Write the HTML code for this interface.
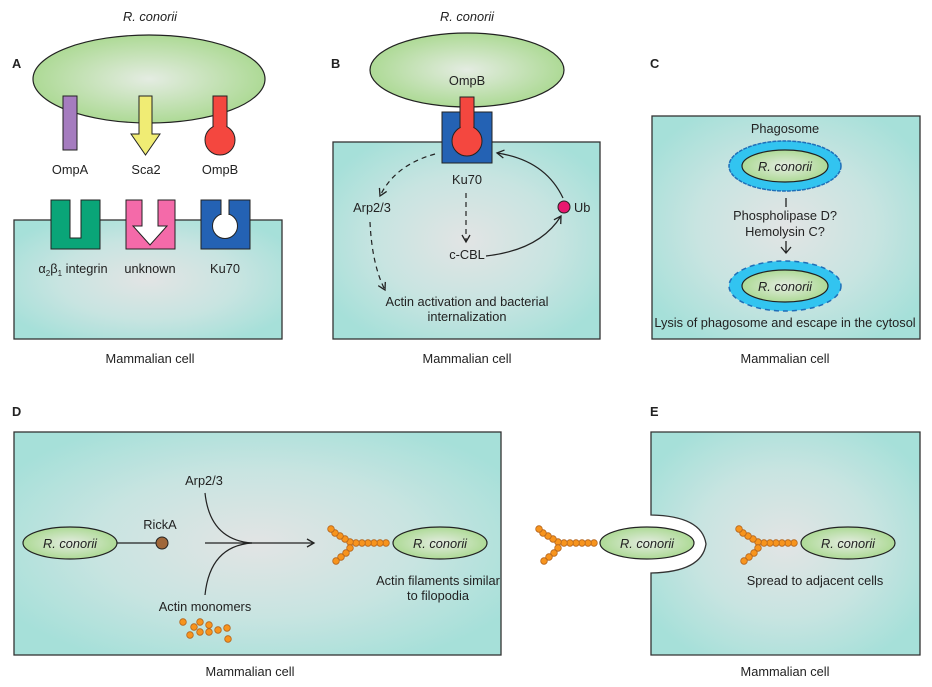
<!DOCTYPE html>
<html><head><meta charset="utf-8"><style>
html,body{margin:0;padding:0;background:#fff;}
svg{display:block;font-family:"Liberation Sans",Arial,sans-serif;}
text{fill:#222;font-size:12.8px;}
</style></head><body>
<svg width="932" height="687" viewBox="0 0 932 687" xmlns="http://www.w3.org/2000/svg">
<defs>
<radialGradient id="cell" cx="50%" cy="50%" r="60%">
<stop offset="0" stop-color="#e2e4e4"/><stop offset="0.55" stop-color="#c8e4e1"/><stop offset="1" stop-color="#a6e0d9"/>
</radialGradient>
<radialGradient id="bac" cx="50%" cy="50%" r="55%">
<stop offset="0" stop-color="#e4ece2"/><stop offset="1" stop-color="#a8d88e"/>
</radialGradient>
<marker id="ah" markerWidth="10" markerHeight="10" refX="8" refY="5" orient="auto" markerUnits="userSpaceOnUse">
<path d="M1,1 L8,5 L1,9" fill="none" stroke="#222" stroke-width="1.3"/></marker>
<g id="chain" fill="#f7941d" stroke="#b5651d" stroke-width="0.8">
<circle cx="38" cy="0" r="3.3"/><circle cx="32" cy="0" r="3.3"/><circle cx="26" cy="0" r="3.3"/><circle cx="20" cy="0" r="3.3"/><circle cx="14" cy="0" r="3.3"/><circle cx="8" cy="0" r="3.3"/><circle cx="2" cy="-1" r="3.3"/>
<circle cx="-3" cy="-4" r="3.3"/><circle cx="-8" cy="-7" r="3.3"/><circle cx="-13" cy="-10" r="3.3"/><circle cx="-17" cy="-14" r="3.3"/>
<circle cx="2" cy="5" r="3.3"/><circle cx="-2" cy="10" r="3.3"/><circle cx="-7" cy="14" r="3.3"/><circle cx="-12" cy="18" r="3.3"/>
</g>
</defs>

<!-- Panel A -->
<text x="150" y="21" text-anchor="middle" font-style="italic" font-size="13.5">R. conorii</text>
<text x="12" y="68" font-weight="bold" font-size="13">A</text>
<ellipse cx="149" cy="79" rx="116" ry="44" fill="url(#bac)" stroke="#222" stroke-width="1.2"/>
<rect x="63" y="96" width="14" height="54" fill="#a57cbf" stroke="#222"/>
<path d="M139,96 H152 V134 H160 L145.5,155 L131,134 H139 Z" fill="#f0ec74" stroke="#222"/>
<rect x="213" y="96" width="14" height="32" fill="#f4473f" stroke="#222"/>
<circle cx="220" cy="140" r="15" fill="#f4473f" stroke="#222"/>
<rect x="213.7" y="120" width="12.6" height="10" fill="#f4473f"/>
<text x="70" y="174" text-anchor="middle">OmpA</text>
<text x="146" y="174" text-anchor="middle">Sca2</text>
<text x="220" y="174" text-anchor="middle">OmpB</text>
<rect x="14" y="220" width="268" height="119" fill="url(#cell)" stroke="#333" stroke-width="1.3"/>
<path d="M51,200 H100 V249 H51 Z" fill="#0aa578" stroke="#222"/>
<path d="M70,200 V238 H81 V200" fill="#fff" stroke="#222"/>
<rect x="70.5" y="199" width="10" height="2" fill="#fff"/>
<rect x="126" y="200" width="49" height="49" fill="#f46aa9" stroke="#222"/>
<path d="M142,199.5 V226 H133 L150,245 L167,226 H158 V199.5" fill="#fff" stroke="#222"/>
<rect x="201" y="200" width="49" height="49" fill="#2462b4" stroke="#222"/>
<circle cx="225" cy="226" r="12.5" fill="#fff" stroke="#222"/>
<path d="M221,199.5 V215 M229,199.5 V215" stroke="#222"/>
<rect x="221.5" y="199" width="7" height="18" fill="#fff"/>
<text x="73" y="273" text-anchor="middle">α<tspan font-size="8" dy="3">2</tspan><tspan dy="-3">β</tspan><tspan font-size="8" dy="3">1</tspan><tspan dy="-3"> integrin</tspan></text>
<text x="150" y="273" text-anchor="middle">unknown</text>
<text x="225" y="273" text-anchor="middle">Ku70</text>
<text x="150" y="363" text-anchor="middle">Mammalian cell</text>

<!-- Panel B -->
<text x="467" y="21" text-anchor="middle" font-style="italic" font-size="13.5">R. conorii</text>
<text x="331" y="68" font-weight="bold" font-size="13">B</text>
<ellipse cx="467" cy="70" rx="97" ry="37" fill="url(#bac)" stroke="#222" stroke-width="1.2"/>
<text x="467" y="85" text-anchor="middle">OmpB</text>
<rect x="333" y="142" width="267" height="197" fill="url(#cell)" stroke="#333" stroke-width="1.3"/>
<rect x="442" y="112" width="50" height="51" fill="#2462b4" stroke="#222"/>
<rect x="460" y="97" width="14" height="32" fill="#f4473f" stroke="#222"/>
<circle cx="467" cy="141" r="15" fill="#f4473f" stroke="#222"/>
<rect x="460.7" y="122" width="12.6" height="10" fill="#f4473f"/>
<text x="467" y="184" text-anchor="middle">Ku70</text>
<text x="372" y="212" text-anchor="middle">Arp2/3</text>
<text x="467" y="259" text-anchor="middle">c-CBL</text>
<circle cx="564" cy="207" r="6" fill="#e8186f" stroke="#222"/>
<text x="574" y="212">Ub</text>
<text x="467" y="306" text-anchor="middle">Actin activation and bacterial</text>
<text x="467" y="321" text-anchor="middle">internalization</text>
<g fill="none" stroke="#222" stroke-width="1.2">
<path d="M435,154 Q395,165 380,196" stroke-dasharray="5,4" marker-end="url(#ah)"/>
<path d="M370,222 Q372,265 385,290" stroke-dasharray="5,4" marker-end="url(#ah)"/>
<path d="M466,193 V242" stroke-dasharray="5,4" marker-end="url(#ah)"/>
<path d="M486,256 Q540,250 561,216" marker-end="url(#ah)"/>
<path d="M563,198 Q545,160 497,153" marker-end="url(#ah)"/>
</g>
<text x="467" y="363" text-anchor="middle">Mammalian cell</text>

<!-- Panel C -->
<text x="650" y="68" font-weight="bold" font-size="13">C</text>
<rect x="652" y="116" width="268" height="223" fill="url(#cell)" stroke="#333" stroke-width="1.3"/>
<text x="785" y="133" text-anchor="middle">Phagosome</text>
<ellipse cx="785" cy="166" rx="56" ry="25" fill="#32c4f0" stroke="#1f6fb8" stroke-width="1.5" stroke-dasharray="4,1"/>
<ellipse cx="785" cy="166" rx="43" ry="16" fill="url(#bac)" stroke="#222" stroke-width="1.2"/>
<text x="785" y="171" text-anchor="middle" font-style="italic">R. conorii</text>
<path d="M786,198 V207" stroke="#222" stroke-width="1.3"/>
<text x="785" y="220" text-anchor="middle">Phospholipase D?</text>
<text x="785" y="236" text-anchor="middle">Hemolysin C?</text>
<path d="M786,241 V253 M781,247 L786,253 L791,247" fill="none" stroke="#222" stroke-width="1.3"/>
<ellipse cx="785" cy="286" rx="56" ry="25" fill="#32c4f0" stroke="#1f6fb8" stroke-width="1.5" stroke-dasharray="5,4"/>
<ellipse cx="785" cy="286" rx="43" ry="16" fill="url(#bac)" stroke="#222" stroke-width="1.2"/>
<text x="785" y="291" text-anchor="middle" font-style="italic">R. conorii</text>
<text x="785" y="327" text-anchor="middle">Lysis of phagosome and escape in the cytosol</text>
<text x="785" y="363" text-anchor="middle">Mammalian cell</text>

<!-- Panel D -->
<text x="12" y="416" font-weight="bold" font-size="13">D</text>
<rect x="14" y="432" width="487" height="223" fill="url(#cell)" stroke="#333" stroke-width="1.3"/>
<ellipse cx="70" cy="543" rx="47" ry="16" fill="url(#bac)" stroke="#222" stroke-width="1.2"/>
<text x="70" y="548" text-anchor="middle" font-style="italic">R. conorii</text>
<path d="M117,543 H157" stroke="#222" stroke-width="1.2"/>
<circle cx="162" cy="543" r="6" fill="#a0673a" stroke="#222"/>
<text x="160" y="529" text-anchor="middle">RickA</text>
<text x="204" y="485" text-anchor="middle">Arp2/3</text>
<g fill="none" stroke="#222" stroke-width="1.2">
<path d="M205,493 Q210,540 252,543"/>
<path d="M205,595 Q210,546 252,543"/>
<path d="M205,543 H314" marker-end="url(#ah)"/>
</g>
<use href="#chain" x="348" y="543"/>
<ellipse cx="440" cy="543" rx="47" ry="16" fill="url(#bac)" stroke="#222" stroke-width="1.2"/>
<text x="440" y="548" text-anchor="middle" font-style="italic">R. conorii</text>
<text x="438" y="585" text-anchor="middle">Actin filaments similar</text>
<text x="438" y="600" text-anchor="middle">to filopodia</text>
<text x="205" y="611" text-anchor="middle">Actin monomers</text>
<g fill="#f7941d" stroke="#b5651d" stroke-width="0.8">
<circle cx="183" cy="622" r="3.3"/><circle cx="194" cy="627" r="3.3"/><circle cx="200" cy="622" r="3.3"/><circle cx="209" cy="625" r="3.3"/><circle cx="227" cy="628" r="3.3"/>
<circle cx="190" cy="635" r="3.3"/><circle cx="200" cy="632" r="3.3"/><circle cx="209" cy="632" r="3.3"/><circle cx="218" cy="630" r="3.3"/><circle cx="228" cy="639" r="3.3"/>
</g>
<text x="250" y="676" text-anchor="middle">Mammalian cell</text>

<!-- Panel E -->
<text x="650" y="416" font-weight="bold" font-size="13">E</text>
<path d="M651,432 H920 V655 H651 V573 Q702,572 706,544 Q702,516 651,515 Z" fill="url(#cell)" stroke="#333" stroke-width="1.3"/>
<use href="#chain" x="556" y="543"/>
<ellipse cx="647" cy="543" rx="47" ry="16" fill="url(#bac)" stroke="#222" stroke-width="1.2"/>
<text x="647" y="548" text-anchor="middle" font-style="italic">R. conorii</text>
<use href="#chain" x="756" y="543"/>
<ellipse cx="848" cy="543" rx="47" ry="16" fill="url(#bac)" stroke="#222" stroke-width="1.2"/>
<text x="848" y="548" text-anchor="middle" font-style="italic">R. conorii</text>
<text x="815" y="585" text-anchor="middle">Spread to adjacent cells</text>
<text x="785" y="676" text-anchor="middle">Mammalian cell</text>
</svg>
</body></html>
